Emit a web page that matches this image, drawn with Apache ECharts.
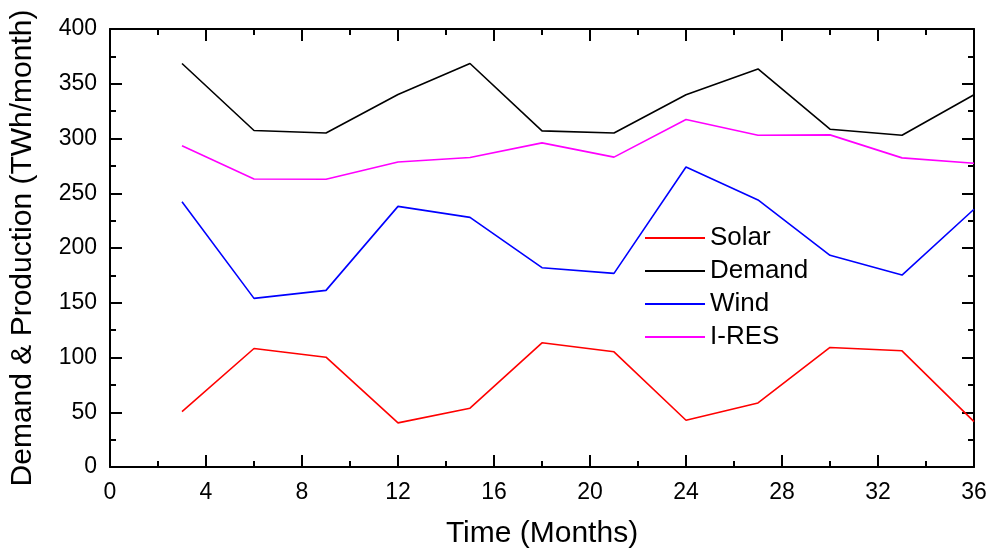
<!DOCTYPE html>
<html>
<head>
<meta charset="utf-8">
<script src="https://cdn.jsdelivr.net/npm/echarts@6/dist/echarts.min.js"></script>
<style>
html,body{margin:0;padding:0;background:#fff;}
#chart{width:992px;height:557px;}
</style>
</head>
<body>
<div id="chart"></div>
<script>
const months = [3, 6, 9, 12, 15, 18, 21, 24, 27, 30, 33, 36];
const solar  = [50.6, 108.2, 100.3, 40.3, 53.7, 113.4, 105.2, 42.7, 58.5, 109.2, 106.1, 41.5];
const demand = [368.5, 307.3, 305.0, 340.2, 368.5, 307.0, 305.0, 340.0, 363.5, 308.5, 303.0, 340.0];
const wind   = [242.3, 154.0, 161.3, 238.0, 228.0, 182.0, 176.8, 274.0, 243.9, 193.3, 175.3, 235.4];
const ires   = [293.3, 263.0, 262.8, 278.6, 282.6, 296.0, 283.0, 317.3, 303.0, 303.3, 282.3, 277.4];
const seriesNames = ['Solar', 'Demand', 'Wind', 'I-RES'];
const seriesColors = ['#ff0000', '#000000', '#0000ff', '#ff00ff'];
const seriesValues = [solar, demand, wind, ires];

const FONT = '"Liberation Sans", Arial, sans-serif';
const chart = echarts.init(document.getElementById('chart'), null, {renderer: 'canvas'});

function axisCommon(showLabels, margin) {
  return {
    axisLine: {show: true, onZero: false, lineStyle: {color: '#000', width: 2}},
    axisTick: {show: true, inside: true, length: 12, lineStyle: {color: '#000', width: 2}},
    minorTick: {show: true, splitNumber: 2, length: 6, lineStyle: {color: '#000', width: 2}},
    splitLine: {show: false},
    minorSplitLine: {show: false},
    axisLabel: {show: showLabels, color: '#000', fontFamily: FONT, fontSize: 23, margin: margin || 8}
  };
}

const option = {
  animation: false,
  backgroundColor: '#fff',
  grid: {left: 110, right: 18, top: 29, bottom: 90, containLabel: false, outerBoundsMode: 'none'},
  legend: {
    orient: 'vertical',
    left: 645,
    top: 225,
    itemWidth: 60,
    itemHeight: 2,
    itemGap: 7,
    icon: 'rect',
    data: seriesNames,
    textStyle: {fontFamily: FONT, fontSize: 26, color: '#000', lineHeight: 26},
    padding: 0
  },
  xAxis: [
    Object.assign({
      type: 'value', min: 0, max: 36, interval: 4, position: 'bottom',
      name: 'Time (Months)', nameLocation: 'middle', nameGap: 52,
      nameTextStyle: {fontFamily: FONT, fontSize: 30, color: '#000'}
    }, axisCommon(true, 14)),
    Object.assign({type: 'value', min: 0, max: 36, interval: 4, position: 'top'}, axisCommon(false))
  ],
  yAxis: [
    Object.assign({
      type: 'value', min: 0, max: 400, interval: 50, position: 'left',
      name: 'Demand & Production (TWh/month)', nameLocation: 'middle', nameGap: 72,
      nameTextStyle: {fontFamily: FONT, fontSize: 30, color: '#000'}
    }, axisCommon(true, 13)),
    Object.assign({type: 'value', min: 0, max: 400, interval: 50, position: 'right'}, axisCommon(false))
  ],
  series: seriesNames.map((name, i) => ({
    name: name,
    type: 'line',
    xAxisIndex: 0,
    yAxisIndex: 0,
    symbol: 'none',
    color: seriesColors[i],
    lineStyle: {color: seriesColors[i], width: 1.6},
    data: months.map((m, j) => [m, seriesValues[i][j]])
  }))
};
chart.setOption(option);
</script>
</body>
</html>
